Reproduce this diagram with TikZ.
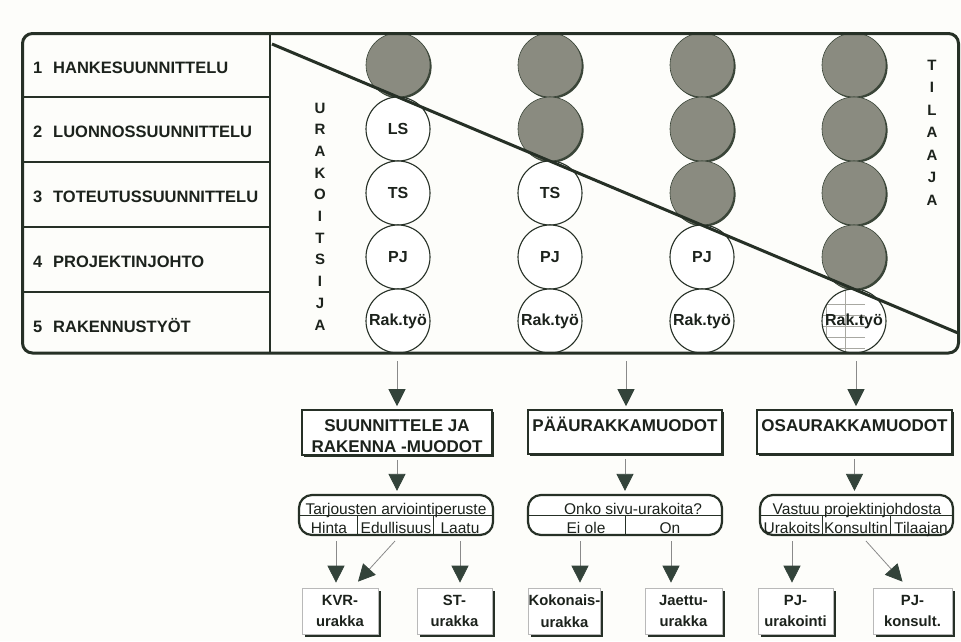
\documentclass[tikz,border=0pt]{standalone}
\usepackage{fontspec}
\setmainfont{Liberation Sans}
\usetikzlibrary{arrows.meta,shadows,calc}

\definecolor{ink}{HTML}{1C221C}
\definecolor{frameink}{HTML}{263026}
\definecolor{discfill}{HTML}{8A8B80}
\definecolor{discshade}{HTML}{3A4538}
\definecolor{tipfill}{HTML}{33433A}
\definecolor{stemgray}{HTML}{8A8A8A}
\definecolor{paper}{HTML}{FDFDFA}
\definecolor{gridgray}{HTML}{A8A8A2}

\begin{document}
\begin{tikzpicture}[x=1pt,y=-1pt,
  every node/.style={text=ink},
  rowlab/.style={anchor=base west, inner sep=0, font=\bfseries\fontsize{16.5}{18}\selectfont},
  rule/.style={draw=frameink, line width=1.6pt},
  letter/.style={anchor=base, inner sep=0, font=\bfseries\fontsize{15}{15}\selectfont},
  disc/.style={circle, minimum size=64pt, inner sep=0},
  open/.style={disc, draw=frameink, line width=1.1pt, fill=white,
    font=\bfseries\fontsize{16}{16}\selectfont},
  filled/.style={disc, draw=discshade, line width=0.6pt, fill=discfill,
    drop shadow={shadow xshift=1.6pt, shadow yshift=-1.6pt, opacity=1, fill=discshade}},
  titlebox/.style={draw=frameink, line width=1.6pt, fill=white, inner sep=0,
    drop shadow={shadow xshift=2pt, shadow yshift=-2pt, opacity=1, fill=frameink}},
  titletext/.style={anchor=base, inner sep=0, font=\bfseries\fontsize{17}{17}\selectfont},
  choice/.style={draw=frameink, line width=2.2pt, rounded corners=13pt, fill=white,
    minimum height=40pt, inner sep=0},
  cell/.style={anchor=base, inner sep=0, font=\fontsize{15.5}{15.5}\selectfont},
  divider/.style={draw=frameink, line width=0.8pt},
  result/.style={draw=gray!55, line width=0.7pt, fill=white, minimum height=46pt,
    inner sep=0, align=center, font=\bfseries\fontsize{14.8}{21.5}\selectfont,
    drop shadow={shadow xshift=2.5pt, shadow yshift=-2.5pt, opacity=1, fill=frameink}},
  arr/.style={draw=stemgray, line width=0.8pt,
    -{Triangle[width=17pt,length=17pt,color=tipfill,fill=tipfill]}}
]
\useasboundingbox[fill=paper] (0,0) rectangle (961,641);

% ---------- phase labels on the left ----------
\node[rowlab] (n1) at (33,73)  {1};  \node[rowlab] (r1) at (53,73)  {HANKESUUNNITTELU};
\node[rowlab] (n2) at (33,137) {2};  \node[rowlab] (r2) at (53,137) {LUONNOSSUUNNITTELU};
\node[rowlab] (n3) at (33,202) {3};  \node[rowlab] (r3) at (53,202) {TOTEUTUSSUUNNITTELU};
\node[rowlab] (n4) at (33,267) {4};  \node[rowlab] (r4) at (53,267) {PROJEKTINJOHTO};
\node[rowlab] (n5) at (33,332) {5};  \node[rowlab] (r5) at (53,332) {RAKENNUSTYÖT};

\draw[rule] (22,97)  -- (270,97);
\draw[rule] (22,162) -- (270,162);
\draw[rule] (22,227) -- (270,227);
\draw[rule] (22,292) -- (270,292);
\draw[rule] (270,33) -- (270,353);

% ---------- contractor / client lettering ----------
\foreach \ch [count=\i] in {U,R,A,K,O,I,T,S,I,J,A}
  \node[letter, name=u\i] at (320,{113+21.7*(\i-1)}) {\ch};
\foreach \ch [count=\i] in {T,I,L,A,A,J,A}
  \node[letter, name=t\i] at (932,{70+22.5*(\i-1)}) {\ch};

% ---------- task discs, one column per delivery model ----------
% column 1
\node[filled] (c11) at (398,65)  {};
\node[open]   (c12) at (398,129) {LS};
\node[open]   (c13) at (398,193) {TS};
\node[open]   (c14) at (398,257) {PJ};
\node[open]   (c15) at (398,321) {Rak.työ};
% column 2
\node[filled] (c21) at (550,65)  {};
\node[filled] (c22) at (550,129) {};
\node[open]   (c23) at (550,193) {TS};
\node[open]   (c24) at (550,257) {PJ};
\node[open]   (c25) at (550,321) {Rak.työ};
% column 3
\node[filled] (c31) at (702,65)  {};
\node[filled] (c32) at (702,129) {};
\node[filled] (c33) at (702,193) {};
\node[open]   (c34) at (702,257) {PJ};
\node[open]   (c35) at (702,321) {Rak.työ};
% column 4 (site work shared: hatched disc)
\node[filled] (c41) at (854,65)  {};
\node[filled] (c42) at (854,129) {};
\node[filled] (c43) at (854,193) {};
\node[filled] (c44) at (854,257) {};
\node[open, path picture={
    \foreach \gx in {-18,1,20} \draw[gridgray, line width=0.5pt] (\gx,-40) -- (\gx,40);
    \foreach \gy in {-21,-10,1,12,23} \draw[gridgray, line width=0.5pt] (-40,\gy) -- (40,\gy);
  }] (c45) at (854,321) {Rak.työ};

% responsibility boundary between contractor and client
\draw[draw=frameink, line width=3pt] (272,44) -- (958,333);

% outer frame
\draw[draw=frameink, line width=3pt, rounded corners=10pt] (22.5,33.5) rectangle (958.5,353);

% ---------- contract form groups ----------
\node[titlebox, minimum width=190pt, minimum height=45pt] (b1) at (397,432.5) {};
\node[titlebox, minimum width=194pt, minimum height=44pt] (b2) at (625,432) {};
\node[titlebox, minimum width=195pt, minimum height=44pt] (b3) at (854.5,432) {};
\node[titletext] (b1a) at (397,431)   {SUUNNITTELE JA};
\node[titletext] (b1b) at (397,452.5) {RAKENNA -MUODOT};
\node[titletext] (b2a) at (625,431)   {PÄÄURAKKAMUODOT};
\node[titletext] (b3a) at (854.5,431) {OSAURAKKAMUODOT};

\coordinate (s1) at (397,361);
\coordinate (s2) at (626,361);
\coordinate (s3) at (856,361);
\draw[arr, shorten >=3pt] (s1) -- (s1 |- b1.north);
\draw[arr, shorten >=3pt] (s2) -- (s2 |- b2.north);
\draw[arr, shorten >=3pt] (s3) -- (s3 |- b3.north);

% ---------- decision criteria ----------
\node[choice, minimum width=194pt] (o1) at (396,515)   {};
\node[choice, minimum width=194pt] (o2) at (625,515)   {};
\node[choice, minimum width=193pt] (o3) at (856.5,515) {};

\draw[arr, shorten <=4pt, shorten >=3pt] (b1.south) -- (b1.south |- o1.north);
\draw[arr, shorten <=4pt, shorten >=3pt] (b2.south) -- (b2.south |- o2.north);
\draw[arr, shorten <=4pt, shorten >=3pt] (b3.south) -- (b3.south |- o3.north);

\draw[divider] (o1.west) -- (o1.east);
\draw[divider] (o2.west) -- (o2.east);
\draw[divider] (o3.west) -- (o3.east);
\draw[divider] (357,515) -- (357,535);
\draw[divider] (433,515) -- (433,535);
\draw[divider] (625,515) -- (625,535);
\draw[divider] (822,515) -- (822,535);
\draw[divider] (890,515) -- (890,535);

\node[cell] (q1) at (396,514)   {Tarjousten arviointiperuste};
\node[cell] (a11) at (329,533)  {Hinta};
\node[cell] (a12) at (396,533)  {Edullisuus};
\node[cell] (a13) at (460,533)  {Laatu};
\node[cell] (q2) at (633,514)   {Onko sivu-urakoita?};
\node[cell] (a21) at (586,533)  {Ei ole};
\node[cell] (a22) at (670,533)  {On};
\node[cell] (q3) at (857,514)   {Vastuu projektinjohdosta};
\node[cell] (a31) at (792,533)  {Urakoits};
\node[cell] (a32) at (856,533)  {Konsultin};
\node[cell] (a33) at (921,533)  {Tilaajan};

% ---------- resulting contract forms ----------
\node[result, minimum width=76pt] (kvr) at (340,611)   {KVR-\\urakka};
\node[result, minimum width=75pt] (st)  at (454.5,611) {ST-\\urakka};
\node[result, minimum width=70pt] (kok) at (564.5,611) {Kokonais-\\urakka};
\node[result, minimum width=77pt] (jae) at (683.5,611) {Jaettu-\\urakka};
\node[result, minimum width=75pt] (pju) at (795.5,611) {PJ-\\urakointi};
\node[result, minimum width=79pt] (pjk) at (912.5,611) {PJ-\\konsult.};

\coordinate (h1) at (336,541);
\coordinate (e1) at (395,541);
\coordinate (l1) at (460,541);
\coordinate (h2) at (580,541);
\coordinate (l2) at (671,541);
\coordinate (h3) at (792,541);
\coordinate (e3) at (866,541);
\draw[arr, shorten >=5pt] (h1) -- (h1 |- kvr.north);
\draw[arr] (e1) -- ([xshift=18pt,yshift=6pt]kvr.north);
\draw[arr, shorten >=5pt] (l1) -- (l1 |- st.north);
\draw[arr, shorten >=5pt] (h2) -- (h2 |- kok.north);
\draw[arr, shorten >=5pt] (l2) -- (l2 |- jae.north);
\draw[arr, shorten >=5pt] (h3) -- (h3 |- pju.north);
\draw[arr] (e3) -- ([xshift=-10pt,yshift=6pt]pjk.north);
\end{tikzpicture}
\end{document}
